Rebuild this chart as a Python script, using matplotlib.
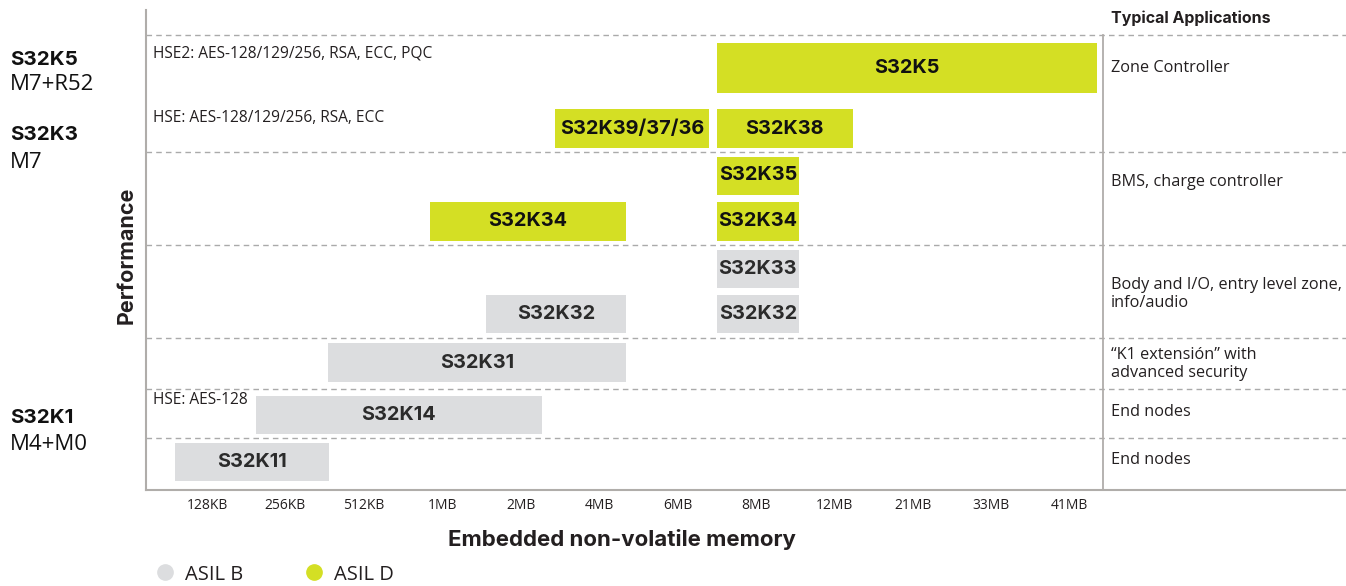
import matplotlib
matplotlib.use("Agg")
import matplotlib.pyplot as plt
from matplotlib.lines import Line2D

# ---------------- data ----------------
mem_labels = ["128KB", "256KB", "512KB", "1MB", "2MB", "4MB", "6MB",
              "8MB", "12MB", "21MB", "33MB", "41MB"]

bar_names = ["S32K5", "S32K39/37/36", "S32K38", "S32K35", "S32K34", "S32K34",
             "S32K33", "S32K32", "S32K32", "S32K31", "S32K14", "S32K11"]
bar_start = [6.5, 4.44, 6.5, 6.5, 2.84, 6.5, 6.5, 3.56, 6.5, 1.54, 0.625, -0.41]
bar_end = [11.35, 6.40, 8.24, 7.55, 5.34, 7.55, 7.55, 5.34, 7.55, 5.34, 4.27, 1.56]
bar_asil = ["D", "D", "D", "D", "D", "D", "B", "B", "B", "B", "B", "B"]
# row centre / height in chart units (top = 0)
bar_row = [58, 118.5, 118.5, 165.5, 211.5, 211.5, 259, 304, 304, 352.5, 405, 452]
bar_h = [50, 39, 39, 38, 39, 39, 38, 38, 38, 39, 38, 38]

separators = [25, 142, 235, 328, 379, 428]

families = [("S32K5", "M7+R52", 50, 74), ("S32K3", "M7", 125, 152),
            ("S32K1", "M4+M0", 408, 435)]

security = [("HSE2: AES-128/129/256, RSA, ECC, PQC", 44),
            ("HSE: AES-128/129/256, RSA, ECC", 108),
            ("HSE: AES-128", 390)]

applications = [("Zone Controller", 58.5), ("BMS, charge controller", 171.5),
                ("Body and I/O, entry level zone,\ninfo/audio", 284),
                ("\u201cK1 extensi\u00f3n\u201d with\nadvanced security", 354),
                ("End nodes", 401.5), ("End nodes", 450)]

legend_labels = ["ASIL B", "ASIL D"]

# ---------------- style ----------------
GREEN = "#D4DF24"
GRAY = "#DCDDDF"
DARK = "#231F20"
LINE = "#B0ADAA"
DASH = "#AAAAAA"
REG = ["Open Sans", "DejaVu Sans"]
BOLD = ["Inter", "DejaVu Sans"]

W, H = 1346, 586
fig = plt.figure(figsize=(W / 100, H / 100), dpi=100)
ax_left, ax_right, ax_top, ax_bot = 146, 1346, 10, 490
ax = fig.add_axes([ax_left / W, 1 - ax_bot / H, (ax_right - ax_left) / W,
                   (ax_bot - ax_top) / H])

x0 = (ax_left - 207) / 78.4
x1 = (ax_right - 207) / 78.4
ax.set_xlim(x0, x1)
ax.set_ylim(480, 0)

for name, s, e, a, yc, h in zip(bar_names, bar_start, bar_end, bar_asil, bar_row, bar_h):
    col = GREEN if a == "D" else GRAY
    ax.barh(yc, e - s, left=s, height=h, color=col, linewidth=0)
    tcol = "#111111" if a == "D" else "#2B2B2B"
    ax.text((s + e) / 2, yc, name, ha="center", va="center", fontsize=14.3,
            fontweight="bold", family=BOLD, color=tcol)

for y in separators:
    ax.axhline(y, color=DASH, lw=1, ls=(0, (4, 3)))

sep_x = (1103 - 207) / 78.4
ax.plot([sep_x, sep_x], [separators[0], 480], color=LINE, lw=1.3, clip_on=False)

ax.set_xticks(range(len(mem_labels)))
ax.set_xticklabels(mem_labels, fontsize=10, family=REG, color=DARK)
ax.tick_params(axis="x", length=0, pad=6)
ax.set_yticks([])
for sp in ["top", "right"]:
    ax.spines[sp].set_visible(False)
for sp in ["left", "bottom"]:
    ax.spines[sp].set_color(LINE)
    ax.spines[sp].set_linewidth(1.5)

tx = (153 - 207) / 78.4
for txt, y in security:
    ax.text(tx, y, txt, ha="left", va="center", fontsize=11.2, family=REG, color=DARK)

ax_x = (1111 - 207) / 78.4
ax.text(ax_x, 8, "Typical Applications", ha="left", va="center", fontsize=11.5,
        fontweight="bold", family=BOLD, color=DARK)
for txt, y in applications:
    ax.text(ax_x, y, txt, ha="left", va="center", fontsize=11.7, family=REG,
            color=DARK, linespacing=1.15)

for fam, core, y1, y2 in families:
    fig.text(10 / W, 1 - (y1 + 10) / H, fam, ha="left", va="center", fontsize=14.8,
             fontweight="bold", family=BOLD, color="#111111")
    fig.text(10 / W, 1 - (y2 + 10) / H, core, ha="left", va="center", fontsize=16,
             family=REG, color="#111111")

fig.text(127 / W, 1 - 255 / H, "Performance", rotation=90, ha="center", va="center",
         fontsize=15.5, fontweight="bold", family=BOLD, color=DARK)
fig.text(622 / W, 1 - 540 / H, "Embedded non-volatile memory", ha="center",
         va="center", fontsize=16, fontweight="bold", family=BOLD, color=DARK)

for lab, col, cx in zip(legend_labels, [GRAY, GREEN], [165, 314]):
    fig.add_artist(Line2D([cx / W], [1 - 572 / H], marker="o", markersize=11,
                          color=col, lw=0, transform=fig.transFigure))
    fig.text((cx + 20) / W, 1 - 580 / H, lab, ha="left", va="baseline", fontsize=14.5,
             family=REG, color=DARK)

fig.savefig("out.png", dpi=100)
